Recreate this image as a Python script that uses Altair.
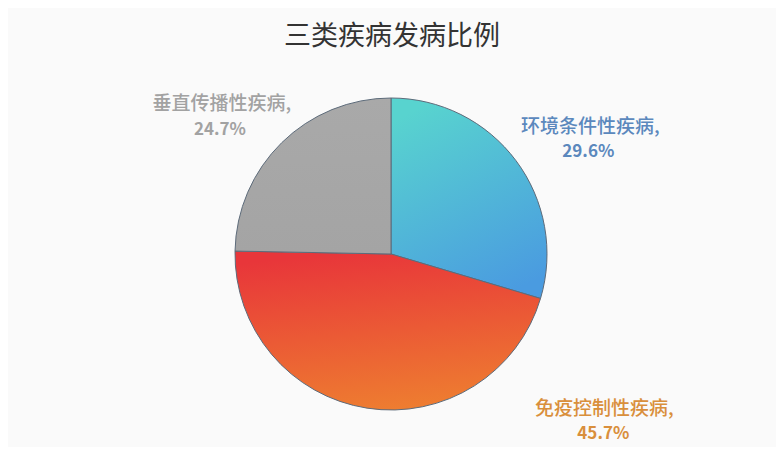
import altair as alt
import pandas as pd

categories = ["环境条件性疾病", "免疫控制性疾病", "垂直传播性疾病"]
values = [29.6, 45.7, 24.7]
pct_labels = ["29.6%", "45.7%", "24.7%"]
slice_order = [0, 1, 2]

df = pd.DataFrame({"category": categories, "value": values,
                   "pct": pct_labels, "order": slice_order})
df["name"] = df["category"] + ","

W, H = 758, 375
CX, CY = 378, 193
R = 156
LABEL_R = 200
FONT = "Noto Sans CJK SC"

theta_scale = alt.Scale(domain=[0, 100], range=[0, 6.283185307179586])

fills = [
    alt.Gradient(gradient="linear", x1=0.3, y1=0, x2=0.7, y2=1,
                 stops=[alt.GradientStop(color="#58d3cf", offset=0),
                        alt.GradientStop(color="#4a9be0", offset=1)]),
    alt.Gradient(gradient="linear", x1=0.4, y1=0, x2=0.6, y2=1,
                 stops=[alt.GradientStop(color="#e8363a", offset=0),
                        alt.GradientStop(color="#ee7e30", offset=1)]),
    alt.Gradient(gradient="linear", x1=0, y1=0, x2=0, y2=1,
                 stops=[alt.GradientStop(color="#a9a9a9", offset=0),
                        alt.GradientStop(color="#a4a4a4", offset=1)]),
]
label_colors = ["#5b88bd", "#d98f3c", "#a2a2a2"]
# per-label offsets (dx, dy) for name line and percent line
name_off = [(39, -7), (244, -43), (-29, -7)]
pct_off = [(37, 18), (243, -18), (-31, 19)]

base = alt.Chart(df).transform_stack(
    stack="value", groupby=[], as_=["start", "end"],
    sort=[alt.SortField("order", order="ascending")]
).transform_calculate(mid="(datum.start + datum.end) / 2")

layers = []
for i in range(len(categories)):
    sub = base.transform_filter(f"datum.order == {i}")
    layers.append(
        sub.mark_arc(radius=R, fill=fills[i], stroke="#5d6b7a", strokeWidth=1).encode(
            theta=alt.Theta("start:Q", scale=theta_scale),
            theta2="end:Q",
            x=alt.value(CX), y=alt.value(CY),
        )
    )
for i in range(len(categories)):
    sub = base.transform_filter(f"datum.order == {i}")
    layers.append(
        sub.mark_text(radius=LABEL_R, dx=name_off[i][0], dy=name_off[i][1],
                      font=FONT, fontSize=19, fontWeight=500,
                      color=label_colors[i]).encode(
            theta=alt.Theta("mid:Q", scale=theta_scale),
            text="name:N",
            x=alt.value(CX), y=alt.value(CY),
        )
    )
    layers.append(
        sub.mark_text(radius=LABEL_R, dx=pct_off[i][0], dy=pct_off[i][1],
                      font=FONT, fontSize=17, fontWeight="bold",
                      color=label_colors[i]).encode(
            theta=alt.Theta("mid:Q", scale=theta_scale),
            text="pct:N",
            x=alt.value(CX), y=alt.value(CY),
        )
    )

chart = alt.layer(*layers).properties(
    width=W, height=H,
    title=alt.TitleParams("三类疾病发病比例", font=FONT, fontSize=27,
                          fontWeight="normal", color="#333333",
                          anchor="middle", offset=10),
    background="#fafafa",
    padding={"top": 15, "left": 5, "right": 5, "bottom": 5},
).configure_view(strokeWidth=0)

chart.save("out.html", embed_options={"renderer": "svg", "actions": False})
